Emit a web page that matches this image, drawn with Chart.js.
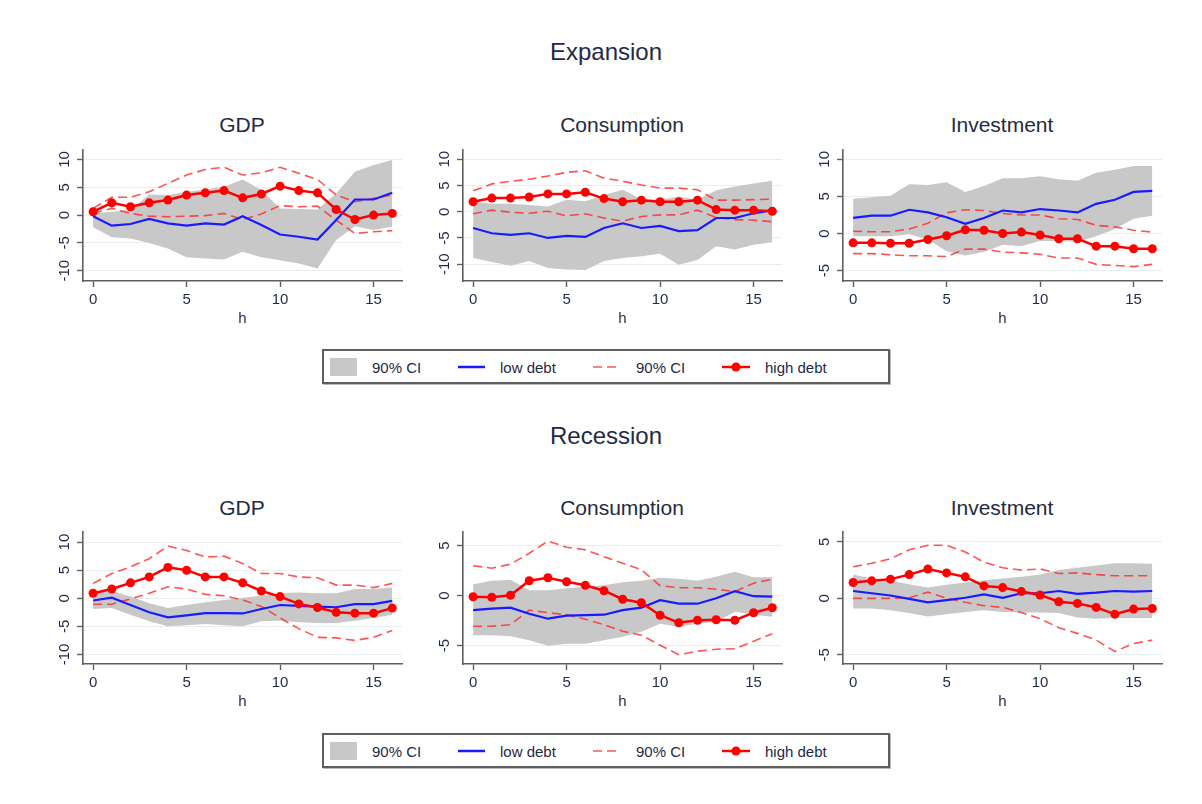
<!DOCTYPE html>
<html>
<head>
<meta charset="utf-8">
<script src="https://cdn.jsdelivr.net/npm/chart.js@4.4.1/dist/chart.umd.min.js"></script>
<style>
  html, body { margin: 0; padding: 0; background: #ffffff; }
  body { width: 1202px; height: 804px; position: relative; overflow: hidden;
         font-family: "Liberation Sans", Arial, sans-serif; color: #1f2a44; }
  .t { position: absolute; white-space: nowrap; transform: translate(-50%, -50%); line-height: 1; }
  .sup { font-size: 24px; }
  .sub { font-size: 21px; }
  canvas { position: absolute; }
  .legend { position: absolute; left: 322px; width: 564px; height: 31px;
            border: 2px solid #5e5e5e; background: #fff; box-shadow: 1px 1px 0 #bbbbbb; }
  .legend .lab { position: absolute; top: 16px; transform: translateY(-50%); font-size: 15px; line-height: 1; white-space: nowrap; }
  .legend .sw { position: absolute; left: 6px; top: 7px; width: 27px; height: 18px; background: #c8c8c8; }
  .legend svg { position: absolute; left: 0; top: 0; }
</style>
</head>
<body>

<div class="t sup" style="left:606px; top:52px;">Expansion</div>
<div class="t sup" style="left:606px; top:436px;">Recession</div>

<div class="t sub" style="left:242px; top:124px;">GDP</div>
<div class="t sub" style="left:622px; top:124px;">Consumption</div>
<div class="t sub" style="left:1002px; top:124px;">Investment</div>
<div class="t sub" style="left:242px; top:507px;">GDP</div>
<div class="t sub" style="left:622px; top:507px;">Consumption</div>
<div class="t sub" style="left:1002px; top:507px;">Investment</div>

<div class="legend" style="top:349px;">
  <div class="sw"></div>
  <div class="lab" style="left:48px;">90% CI</div>
  <div class="lab" style="left:176px;">low debt</div>
  <div class="lab" style="left:312px;">90% CI</div>
  <div class="lab" style="left:441px;">high debt</div>
  <svg width="564" height="31">
    <line x1="134" y1="16" x2="161" y2="16" stroke="#1a1aff" stroke-width="2.5"/>
    <line x1="269" y1="16" x2="295" y2="16" stroke="rgba(255,40,40,0.8)" stroke-width="1.6" stroke-dasharray="9,5"/>
    <line x1="398" y1="16" x2="426" y2="16" stroke="#ff0000" stroke-width="2.5"/>
    <circle cx="412" cy="16" r="4.5" fill="#ff0000"/>
  </svg>
</div>

<div class="legend" style="top:733px;">
  <div class="sw"></div>
  <div class="lab" style="left:48px;">90% CI</div>
  <div class="lab" style="left:176px;">low debt</div>
  <div class="lab" style="left:312px;">90% CI</div>
  <div class="lab" style="left:441px;">high debt</div>
  <svg width="564" height="31">
    <line x1="134" y1="16" x2="161" y2="16" stroke="#1a1aff" stroke-width="2.5"/>
    <line x1="269" y1="16" x2="295" y2="16" stroke="rgba(255,40,40,0.8)" stroke-width="1.6" stroke-dasharray="9,5"/>
    <line x1="398" y1="16" x2="426" y2="16" stroke="#ff0000" stroke-width="2.5"/>
    <circle cx="412" cy="16" r="4.5" fill="#ff0000"/>
  </svg>
</div>

<script>
// Horizons (quarters after the shock)
const horizons = [0,1,2,3,4,5,6,7,8,9,10,11,12,13,14,15,16];
const xTicks = [0, 5, 10, 15];
const yTicksWide = [-10, -5, 0, 5, 10];
const yTicksInv = [-5, 0, 5, 10];
const yTicksNarrow = [-5, 0, 5];

// ---- Expansion: GDP ----
const expGdpLow    = [-0.2,-1.9,-1.6,-0.7,-1.5,-1.9,-1.5,-1.7,-0.2,-1.8,-3.5,-3.9,-4.4,-0.9,2.8,2.8,4.0];
const expGdpLowHi  = [0.3,0.6,0.9,3.7,3.6,4.2,4.6,5.1,6.4,4.5,1.2,1.1,1.0,3.9,7.8,9.0,9.9];
const expGdpLowLo  = [-2.2,-4.0,-4.2,-5.0,-6.0,-7.6,-7.8,-8.0,-6.6,-7.6,-8.1,-8.7,-9.6,-4.5,-2.0,-2.7,-2.1];
const expGdpHigh   = [0.6,2.2,1.5,2.2,2.7,3.6,4.0,4.4,3.1,3.8,5.2,4.4,4.0,1.0,-0.8,0.0,0.3];
const expGdpHighHi = [1.2,3.2,3.2,4.2,5.7,7.2,8.2,8.6,7.2,7.6,8.6,7.5,6.4,3.6,2.4,3.0,3.6];
const expGdpHighLo = [0.3,1.2,0.3,-0.2,-0.3,-0.2,-0.1,0.3,-0.8,0.2,1.7,1.5,1.6,-0.9,-3.3,-3.0,-2.8];

// ---- Expansion: Consumption ----
const expConLow    = [-3.1,-4.1,-4.4,-4.1,-5.0,-4.6,-4.8,-3.1,-2.2,-3.1,-2.7,-3.7,-3.5,-1.2,-1.2,-0.3,0.3];
const expConLowHi  = [2.0,1.5,1.5,1.3,1.0,2.3,2.0,3.2,4.2,2.4,2.3,2.9,2.3,4.1,4.8,5.4,5.9];
const expConLowLo  = [-8.8,-9.6,-10.3,-9.4,-10.7,-11.0,-11.1,-9.4,-8.8,-8.5,-8.0,-10.1,-9.2,-6.6,-7.2,-6.3,-5.8];
const expConHigh   = [1.9,2.6,2.6,2.8,3.4,3.4,3.7,2.5,1.9,2.2,1.9,1.9,2.2,0.4,0.3,0.3,0.1];
const expConHighHi = [4.0,5.3,5.8,6.2,6.8,7.5,7.8,6.4,5.8,5.1,4.5,4.5,4.2,2.2,2.2,2.3,2.4];
const expConHighLo = [-0.4,0.3,-0.1,-0.3,0.1,-0.8,-0.4,-1.2,-1.8,-0.9,-0.6,-0.6,0.3,-1.1,-1.5,-1.6,-1.9];

// ---- Expansion: Investment ----
const expInvLow    = [2.1,2.4,2.4,3.2,2.85,2.2,1.3,2.1,3.1,2.85,3.3,3.1,2.85,4.0,4.55,5.6,5.75];
const expInvLowHi  = [4.7,4.9,5.1,6.65,6.55,6.9,5.6,6.4,7.45,7.45,7.7,7.3,7.1,8.2,8.6,9.1,9.1];
const expInvLowLo  = [-0.35,-0.35,-0.35,-0.1,-0.8,-2.4,-2.95,-2.5,-1.5,-1.7,-1.0,-1.0,-1.15,-0.35,0.6,2.0,2.4];
const expInvHigh   = [-1.25,-1.25,-1.3,-1.3,-0.8,-0.3,0.5,0.45,0.0,0.2,-0.2,-0.7,-0.7,-1.7,-1.7,-2.05,-2.05];
const expInvHighHi = [0.3,0.25,0.25,0.6,1.4,2.8,3.2,3.1,2.7,2.5,2.5,2.0,1.9,1.1,0.9,0.45,0.2];
const expInvHighLo = [-2.7,-2.7,-2.85,-3.0,-3.0,-3.1,-2.1,-2.1,-2.5,-2.6,-2.8,-3.3,-3.3,-4.15,-4.3,-4.45,-4.15];

// ---- Recession: GDP ----
const recGdpLow    = [-0.4,0.1,-1.2,-2.5,-3.4,-3.05,-2.65,-2.65,-2.7,-1.9,-1.2,-1.35,-1.5,-1.6,-1.05,-1.05,-0.45];
const recGdpLowHi  = [0.9,1.3,0.3,-0.9,-1.75,-1.2,-0.7,-0.3,0.1,0.45,0.9,1.05,0.9,0.9,1.65,1.65,1.9];
const recGdpLowLo  = [-1.9,-1.75,-2.95,-4.1,-5.0,-4.8,-4.6,-4.8,-5.0,-4.1,-4.0,-4.25,-4.4,-4.4,-4.0,-3.5,-2.95];
const recGdpHigh   = [0.9,1.65,2.75,3.8,5.5,5.0,3.8,3.8,2.75,1.3,0.3,-1.0,-1.65,-2.5,-2.65,-2.65,-1.75];
const recGdpHighHi = [2.65,4.4,5.6,7.05,9.3,8.5,7.35,7.5,6.2,4.4,4.4,3.8,3.65,2.35,2.35,1.9,2.65];
const recGdpHighLo = [-1.05,-1.05,-0.1,0.9,2.05,1.65,0.7,0.45,-0.3,-1.45,-3.5,-5.4,-6.95,-7.05,-7.5,-6.95,-5.75];

// ---- Recession: Consumption ----
const recConLow    = [-1.45,-1.3,-1.2,-1.8,-2.3,-2.0,-1.95,-1.9,-1.45,-1.2,-0.45,-0.8,-0.8,-0.25,0.45,-0.05,-0.1];
const recConLowHi  = [1.15,1.5,1.6,0.55,0.55,0.75,0.9,1.05,1.35,1.5,1.8,1.7,1.5,1.9,2.4,1.85,1.85];
const recConLowLo  = [-3.95,-3.95,-4.05,-4.45,-5.0,-4.8,-4.8,-4.45,-4.1,-3.6,-2.8,-3.1,-2.8,-2.6,-1.6,-1.9,-2.1];
const recConHigh   = [-0.1,-0.15,0.05,1.5,1.8,1.4,1.05,0.5,-0.35,-0.7,-1.95,-2.7,-2.45,-2.4,-2.45,-1.7,-1.2];
const recConHighHi = [3.0,2.75,3.15,4.25,5.45,4.85,4.6,3.9,3.25,2.6,1.0,0.8,0.8,0.65,0.4,1.25,1.65];
const recConHighLo = [-3.05,-3.05,-2.9,-1.45,-1.7,-1.9,-2.35,-2.9,-3.55,-3.95,-4.95,-5.9,-5.55,-5.35,-5.3,-4.55,-3.8];

// ---- Recession: Investment ----
const recInvLow    = [0.65,0.45,0.25,-0.05,-0.35,-0.15,0.05,0.35,0.05,0.45,0.45,0.65,0.4,0.5,0.65,0.6,0.65];
const recInvLowHi  = [2.1,1.75,1.55,1.25,0.95,1.2,1.4,1.6,1.75,1.9,2.1,2.5,2.7,2.9,3.1,3.1,3.05];
const recInvLowLo  = [-0.9,-0.9,-1.05,-1.3,-1.6,-1.4,-1.2,-1.05,-1.2,-1.25,-1.25,-1.3,-1.7,-1.8,-1.75,-1.75,-1.75];
const recInvHigh   = [1.4,1.55,1.7,2.1,2.6,2.25,1.9,1.1,0.95,0.6,0.3,-0.3,-0.45,-0.8,-1.4,-0.95,-0.9];
const recInvHighHi = [2.8,3.1,3.5,4.3,4.7,4.7,4.1,3.2,2.7,2.5,2.6,2.2,2.25,2.1,2.0,2.0,2.0];
const recInvHighLo = [0.0,0.0,0.0,0.05,0.55,0.0,-0.35,-0.65,-0.8,-1.25,-1.8,-2.6,-3.1,-3.7,-4.7,-4.0,-3.7];

// ---- styling ----
const TEXT = '#1f2a44';
const AXIS = '#5e5e5e';
const GRID = '#e6eef0';
const FONT = 'Liberation Sans';
const TICK_FONT_SIZE = 15;
const TICK_LEN = 6;
const X_MIN = -0.54, X_MAX = 16.52;
const PAD_L = 45, PAD_T = 10, PAD_R = 10, PAD_B = 47;

function pts(vals) { return vals.map((v, i) => ({ x: horizons[i], y: v })); }

// padding that puts the centre of the rotated y labels a fixed distance from the axis
const measureCtx = document.createElement('canvas').getContext('2d');
function yLabelPadding(ticks) {
  measureCtx.font = `${TICK_FONT_SIZE}px "${FONT}"`;
  const widest = Math.max(...ticks.map(t => measureCtx.measureText(String(t)).width));
  return Math.max(0, 18.3 - TICK_LEN - widest / 2);
}

function panel(plotLeft, plotTop, plotW, plotH, yMin, yMax, yTicks, s) {
  const cv = document.createElement('canvas');
  const w = plotW + PAD_L + PAD_R, h = plotH + PAD_T + PAD_B;
  cv.width = w; cv.height = h;
  cv.style.left = (plotLeft - PAD_L) + 'px';
  cv.style.top = (plotTop - PAD_T) + 'px';
  cv.style.width = w + 'px'; cv.style.height = h + 'px';
  document.body.appendChild(cv);

  new Chart(cv, {
    type: 'line',
    data: {
      datasets: [
        { data: pts(s.high), borderColor: '#ff0000', backgroundColor: '#ff0000', borderWidth: 2.5,
          pointRadius: 4.5, pointBorderWidth: 0, pointBackgroundColor: '#ff0000', fill: false, order: 0 },
        { data: pts(s.low), borderColor: '#1a1aff', borderWidth: 2.2, pointRadius: 0, fill: false, order: 1 },
        { data: pts(s.highHi), borderColor: 'rgba(255,40,40,0.8)', borderWidth: 1.6, borderDash: [9, 5],
          pointRadius: 0, fill: false, order: 2 },
        { data: pts(s.highLo), borderColor: 'rgba(255,40,40,0.8)', borderWidth: 1.6, borderDash: [9, 5],
          pointRadius: 0, fill: false, order: 2 },
        { data: pts(s.lowHi), borderWidth: 0, borderColor: 'rgba(0,0,0,0)', pointRadius: 0,
          backgroundColor: '#c8c8c8', fill: '+1', order: 3 },
        { data: pts(s.lowLo), borderWidth: 0, borderColor: 'rgba(0,0,0,0)', pointRadius: 0,
          fill: false, order: 4 }
      ]
    },
    options: {
      responsive: false,
      animation: false,
      devicePixelRatio: 1,
      events: [],
      layout: { padding: { left: 0, top: PAD_T, right: PAD_R, bottom: 0 } },
      elements: { line: { tension: 0 } },
      plugins: { legend: { display: false }, tooltip: { enabled: false }, title: { display: false } },
      scales: {
        x: {
          type: 'linear', min: X_MIN, max: X_MAX,
          afterBuildTicks: sc => { sc.ticks = xTicks.map(v => ({ value: v })); },
          afterFit: sc => { sc.height = PAD_B; sc.paddingLeft = 0; sc.paddingRight = 0; },
          grid: { display: true, drawOnChartArea: false, drawTicks: true, tickLength: TICK_LEN,
                  tickColor: AXIS, tickWidth: 1.4 },
          border: { display: true, color: AXIS, width: 1.6 },
          ticks: { color: TEXT, font: { family: FONT, size: TICK_FONT_SIZE }, padding: 4,
                   maxRotation: 0, minRotation: 0, autoSkip: false },
          title: { display: true, text: 'h', color: TEXT, font: { family: FONT, size: 15 },
                   padding: { top: 0, bottom: 0 } }
        },
        y: {
          type: 'linear', min: yMin, max: yMax,
          afterBuildTicks: sc => { sc.ticks = yTicks.map(v => ({ value: v })); },
          afterFit: sc => { sc.width = PAD_L; sc.paddingTop = 0; sc.paddingBottom = 0; },
          grid: { display: true, drawOnChartArea: true, color: GRID, lineWidth: 1,
                  drawTicks: true, tickLength: TICK_LEN, tickColor: AXIS, tickWidth: 1.4 },
          border: { display: true, color: AXIS, width: 1.6 },
          ticks: { color: TEXT, font: { family: FONT, size: TICK_FONT_SIZE },
                   minRotation: 90, maxRotation: 90, crossAlign: 'center',
                   padding: yLabelPadding(yTicks), autoSkip: false }
        }
      }
    }
  });
}

const ROW1_TOP = 150, ROW1_H = 131;
const ROW2_TOP = 532, ROW2_H = 132;
const COL_LEFT = [83, 463, 843];
const PLOT_W = 319;

panel(COL_LEFT[0], ROW1_TOP, PLOT_W, ROW1_H, -11.85, 11.7, yTicksWide,
  { low: expGdpLow, lowHi: expGdpLowHi, lowLo: expGdpLowLo, high: expGdpHigh, highHi: expGdpHighHi, highLo: expGdpHighLo });
panel(COL_LEFT[1], ROW1_TOP, PLOT_W, ROW1_H, -13.2, 11.76, yTicksWide,
  { low: expConLow, lowHi: expConLowHi, lowLo: expConLowLo, high: expConHigh, highHi: expConHighHi, highLo: expConHighLo });
panel(COL_LEFT[2], ROW1_TOP, PLOT_W, ROW1_H, -6.39, 11.25, yTicksInv,
  { low: expInvLow, lowHi: expInvLowHi, lowLo: expInvLowLo, high: expInvHigh, highHi: expInvHighHi, highLo: expInvHighLo });
panel(COL_LEFT[0], ROW2_TOP, PLOT_W, ROW2_H, -11.7, 11.8, yTicksWide,
  { low: recGdpLow, lowHi: recGdpLowHi, lowLo: recGdpLowLo, high: recGdpHigh, highHi: recGdpHighHi, highLo: recGdpHighLo });
panel(COL_LEFT[1], ROW2_TOP, PLOT_W, ROW2_H, -6.83, 6.37, yTicksNarrow,
  { low: recConLow, lowHi: recConLowHi, lowLo: recConLowLo, high: recConHigh, highHi: recConHighHi, highLo: recConHighLo });
panel(COL_LEFT[2], ROW2_TOP, PLOT_W, ROW2_H, -5.81, 5.87, yTicksNarrow,
  { low: recInvLow, lowHi: recInvLowHi, lowLo: recInvLowLo, high: recInvHigh, highHi: recInvHighHi, highLo: recInvHighLo });
</script>
</body>
</html>
